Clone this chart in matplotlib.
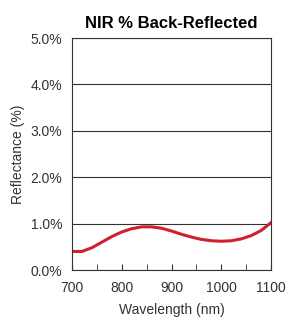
import numpy as np
import matplotlib
matplotlib.use("Agg")
import matplotlib.pyplot as plt
import matplotlib.ticker as ticker

plt.rcParams['font.family'] = ['Liberation Sans', 'DejaVu Sans']

# --- Data ---
wavelength = [700, 720, 740, 760, 780, 800, 820, 840, 860, 880, 900, 920, 940,
              960, 980, 1000, 1020, 1040, 1060, 1080, 1100]
reflectance = [0.40, 0.40, 0.48, 0.60, 0.72, 0.82, 0.89, 0.93, 0.93, 0.90, 0.84,
               0.77, 0.71, 0.66, 0.63, 0.62, 0.63, 0.67, 0.74, 0.85, 1.02]
y_ticks = [0, 1, 2, 3, 4, 5]
x_ticks = [700, 800, 900, 1000, 1100]

fig = plt.figure(figsize=(2.89, 3.18), dpi=100)
ax = fig.add_axes([72 / 289, 1 - 270 / 318, 199 / 289, 232 / 318])

ax.plot(wavelength, reflectance, color='#d0202e', linewidth=2.2)

ax.set_xlim(700, 1100)
ax.set_ylim(0, 5)
ax.set_xticks(x_ticks)
ax.xaxis.set_minor_locator(ticker.MultipleLocator(50))
ax.set_yticks(y_ticks)
ax.yaxis.set_major_formatter(ticker.FuncFormatter(lambda v, p: f"{v:.1f}%"))
ax.grid(True, axis='y', color='#333333', linewidth=0.8)
ax.tick_params(axis='x', which='both', direction='in', length=4, labelsize=10,
               color='#333333', labelcolor='#333333', pad=8)
ax.tick_params(axis='y', length=0, labelsize=10, pad=7, labelcolor='#333333')
for s in ax.spines.values():
    s.set_color('#333333')

ax.set_xlabel("Wavelength (nm)", fontsize=10, labelpad=6, color='#333333')
ax.set_ylabel("Reflectance (%)", fontsize=10, labelpad=4, color='#333333')
ax.set_title("NIR % Back-Reflected", fontsize=12, fontweight='heavy', pad=7)

fig.savefig("out.png", dpi=100)
